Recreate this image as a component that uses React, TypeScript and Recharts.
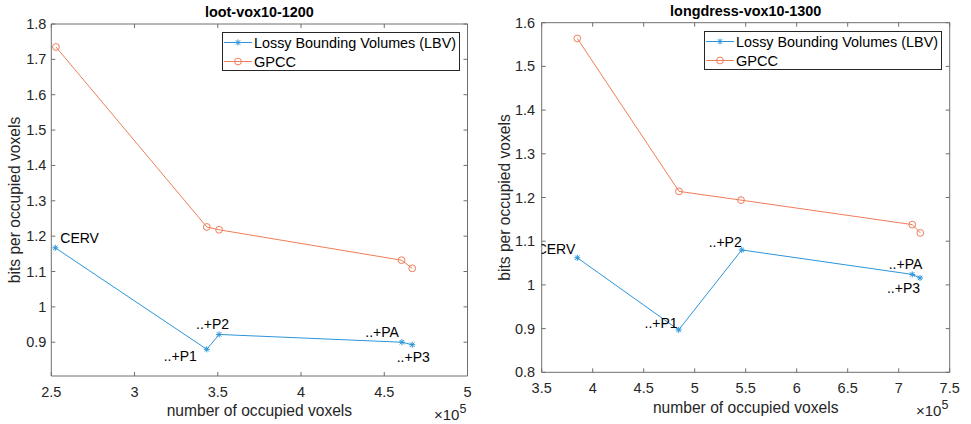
import React from 'react';
import { ScatterChart, Scatter, XAxis, YAxis, Legend, Label } from 'recharts';

const FONT = '"Liberation Sans", Arial, Helvetica, sans-serif';
const BLUE = '#2b95d9';
const ORANGE = '#ef7d5a';
const AXIS = '#6e6e6e';
const TEXT = '#262626';
const TICK_LEN = 4;

// series names + point labels
const seriesNames = ['Lossy Bounding Volumes (LBV)', 'GPCC'];
const pointNames = ['CERV', '..+P1', '..+P2', '..+PA', '..+P3'];

// loot-vox10-1200 (x in 1e5 voxels)
const lootLbvX = [2.524, 3.434, 3.508, 4.606, 4.668];
const lootLbvY = [1.167, 0.88, 0.922, 0.9, 0.893];
const lootGpccX = [2.528, 3.434, 3.508, 4.604, 4.668];
const lootGpccY = [1.735, 1.226, 1.218, 1.132, 1.109];
const lootXTicks = [2.5, 3, 3.5, 4, 4.5, 5];
const lootYTicks = [0.9, 1, 1.1, 1.2, 1.3, 1.4, 1.5, 1.6, 1.7, 1.8];

// longdress-vox10-1300
const longLbvX = [3.849, 4.843, 5.461, 7.133, 7.209];
const longLbvY = [1.062, 0.897, 1.08, 1.024, 1.016];
const longGpccX = [3.849, 4.846, 5.454, 7.133, 7.212];
const longGpccY = [1.564, 1.214, 1.194, 1.138, 1.119];
const longXTicks = [3.5, 4, 4.5, 5, 5.5, 6, 6.5, 7, 7.5];
const longYTicks = [0.8, 0.9, 1, 1.1, 1.2, 1.3, 1.4, 1.5, 1.6];

const toPoints = (xs: number[], ys: number[], names?: string[]) =>
  xs.map((x, i) => ({ x, y: ys[i], name: names ? names[i] : '' }));

// where each text annotation sits relative to its point
const lootLabelPos: Record<string, any> = {
  CERV: { anchor: 'start', dx: 5, dy: -10 },
  '..+P1': { anchor: 'end', dx: -10, dy: 7 },
  '..+P2': { anchor: 'end', dx: 10, dy: -10 },
  '..+PA': { anchor: 'end', dx: -3, dy: -10 },
  '..+P3': { anchor: 'middle', dx: 1, dy: 12 },
};
const longLabelPos: Record<string, any> = {
  CERV: { anchor: 'end', dx: -2, dy: -9 },
  '..+P1': { anchor: 'end', dx: -1, dy: -7 },
  '..+P2': { anchor: 'end', dx: 0, dy: -8 },
  '..+PA': { anchor: 'end', dx: 10, dy: -10 },
  '..+P3': { anchor: 'end', dx: 0, dy: 10 },
};

const star = (cx: number, cy: number, color: string) => (
  <g stroke={color} strokeWidth={1}>
    <line x1={cx - 3} y1={cy} x2={cx + 3} y2={cy} />
    <line x1={cx} y1={cy - 3} x2={cx} y2={cy + 3} />
    <line x1={cx - 2.2} y1={cy - 2.2} x2={cx + 2.2} y2={cy + 2.2} />
    <line x1={cx - 2.2} y1={cy + 2.2} x2={cx + 2.2} y2={cy - 2.2} />
  </g>
);

const circle = (cx: number, cy: number, color: string) => (
  <circle cx={cx} cy={cy} r={3.4} fill="none" stroke={color} strokeWidth={1} />
);

const renderLegend = () => (
  <svg width={238} height={39} style={{ display: 'block' }}>
    <rect x={0.5} y={0.5} width={237} height={38} fill="#fff" stroke="#262626" />
    <line x1={2} y1={10.5} x2={30} y2={10.5} stroke={BLUE} />
    {star(16, 10.5, BLUE)}
    <text x={32} y={15.8} fontSize={14.6} fill="#000" fontFamily={FONT} textLength={202} lengthAdjust="spacingAndGlyphs">
      {seriesNames[0]}
    </text>
    <line x1={2} y1={29.5} x2={30} y2={29.5} stroke={ORANGE} />
    {circle(16, 29.5, ORANGE)}
    <text x={32} y={34.8} fontSize={14.6} fill="#000" fontFamily={FONT}>{seriesNames[1]}</text>
  </svg>
);

const Panel = ({ cfg }: { cfg: any }) => {
  const plotTop = cfg.top;
  const plotBottom = 424 - cfg.bottom;
  const plotLeft = cfg.leftW;
  const plotRight = cfg.width - cfg.rightW;

  const lbvShape = (p: any) => {
    const pos = cfg.labelPos[p.payload.name];
    return (
      <g>
        {star(p.cx, p.cy, BLUE)}
        <text
          x={p.cx + pos.dx}
          y={p.cy + pos.dy}
          textAnchor={pos.anchor}
          dominantBaseline="central"
          fontSize={14}
          fill="#000"
          fontFamily={FONT}
        >
          {p.payload.name}
        </text>
      </g>
    );
  };
  const gpccShape = (p: any) => circle(p.cx, p.cy, ORANGE);

  // inward MATLAB-style ticks
  const bottomTick = (p: any) => (
    <g>
      <line x1={p.x} y1={plotBottom} x2={p.x} y2={plotBottom - TICK_LEN} stroke={AXIS} />
      <text x={p.x} y={plotBottom + cfg.xTickDy} textAnchor="middle" dominantBaseline="central" fontSize={14.5} fill={TEXT} fontFamily={FONT}>
        {p.payload.value}
      </text>
    </g>
  );
  const topTick = (p: any) => (
    <line x1={p.x} y1={plotTop} x2={p.x} y2={plotTop + TICK_LEN} stroke={AXIS} />
  );
  const leftTick = (p: any) => (
    <g>
      <line x1={plotLeft} y1={p.y} x2={plotLeft + TICK_LEN} y2={p.y} stroke={AXIS} />
      <text x={plotLeft - cfg.yTickGap} y={p.y} textAnchor="end" dominantBaseline="central" fontSize={14.5} fill={TEXT} fontFamily={FONT}>
        {p.payload.value}
      </text>
    </g>
  );
  const rightTick = (p: any) => (
    <line x1={plotRight} y1={p.y} x2={plotRight - TICK_LEN} y2={p.y} stroke={AXIS} />
  );

  return (
    <div style={{ position: 'absolute', left: cfg.left, top: 0, width: cfg.width, height: 424 }}>
      <ScatterChart
        width={cfg.width}
        height={424}
        margin={{ top: 0, right: 0, bottom: 0, left: 0 }}
        style={{ fontFamily: FONT }}
      >
        <XAxis
          xAxisId="b"
          type="number"
          dataKey="x"
          domain={cfg.xDomain}
          ticks={cfg.xTicks}
          interval={0}
          allowDataOverflow
          height={cfg.bottom}
          tickLine={false}
          stroke={AXIS}
          tick={bottomTick}
        >
          <Label value="number of occupied voxels" position="insideBottom" offset={cfg.xLabelOffset} fill={TEXT} fontSize={15.6} />
        </XAxis>
        <XAxis
          xAxisId="t"
          orientation="top"
          type="number"
          dataKey="x"
          domain={cfg.xDomain}
          ticks={cfg.xTicks}
          interval={0}
          allowDataOverflow
          height={cfg.top}
          tickLine={false}
          stroke={AXIS}
          tick={topTick}
        >
          <Label value={cfg.title} position="center" fill="#000" fontSize={14.4} fontWeight="bold" />
        </XAxis>
        <YAxis
          yAxisId="l"
          type="number"
          dataKey="y"
          domain={cfg.yDomain}
          ticks={cfg.yTicks}
          interval={0}
          allowDataOverflow
          width={cfg.leftW}
          tickLine={false}
          stroke={AXIS}
          tick={leftTick}
        >
          <Label
            value="bits per occupied voxels"
            angle={-90}
            position="insideLeft"
            offset={cfg.yLabelOffset}
            fill={TEXT}
            fontSize={15.6}
            style={{ textAnchor: 'middle' }}
          />
        </YAxis>
        <YAxis
          yAxisId="r"
          orientation="right"
          type="number"
          dataKey="y"
          domain={cfg.yDomain}
          ticks={cfg.yTicks}
          interval={0}
          allowDataOverflow
          width={cfg.rightW}
          tickLine={false}
          stroke={AXIS}
          tick={rightTick}
        />
        <Scatter
          xAxisId="b"
          yAxisId="l"
          name={seriesNames[0]}
          data={cfg.lbv}
          line={{ stroke: BLUE, strokeWidth: 1 }}
          lineType="joint"
          shape={lbvShape}
          isAnimationActive={false}
        />
        <Scatter
          xAxisId="b"
          yAxisId="l"
          name={seriesNames[1]}
          data={cfg.gpcc}
          line={{ stroke: ORANGE, strokeWidth: 1 }}
          lineType="joint"
          shape={gpccShape}
          isAnimationActive={false}
        />
        <Legend
          layout="vertical"
          align="center"
          verticalAlign="middle"
          content={renderLegend}
          wrapperStyle={{ left: cfg.legendX, top: cfg.legendY, width: 238, height: 39 }}
        />
      </ScatterChart>
      <div
        style={{
          position: 'absolute',
          left: cfg.expX,
          top: cfg.expY,
          fontFamily: FONT,
          fontSize: 15,
          lineHeight: '15px',
          color: TEXT,
          whiteSpace: 'nowrap',
        }}
      >
        ×10<span style={{ position: 'relative', top: -7, fontSize: 12.5 }}>5</span>
      </div>
    </div>
  );
};

const lootCfg = {
  title: 'loot-vox10-1200',
  left: 0,
  width: 485,
  top: 24,
  bottom: 48,
  leftW: 51.3,
  rightW: 17.5,
  xDomain: [2.5, 5],
  yDomain: [0.8045, 1.8],
  xTicks: lootXTicks,
  yTicks: lootYTicks,
  xTickDy: 16,
  yTickGap: 5,
  xLabelOffset: 8,
  yLabelOffset: 14,
  lbv: toPoints(lootLbvX, lootLbvY, pointNames),
  gpcc: toPoints(lootGpccX, lootGpccY),
  labelPos: lootLabelPos,
  legendX: 221.7,
  legendY: 32,
  expX: 434,
  expY: 407,
};

const longCfg = {
  title: 'longdress-vox10-1300',
  left: 485,
  width: 486,
  top: 22.7,
  bottom: 51.7,
  leftW: 56.7,
  rightW: 21.3,
  xDomain: [3.5, 7.5],
  yDomain: [0.8, 1.6],
  xTicks: longXTicks,
  yTicks: longYTicks,
  xTickDy: 15.4,
  yTickGap: 6.5,
  xLabelOffset: 11.5,
  yLabelOffset: 19.5,
  lbv: toPoints(longLbvX, longLbvY, pointNames),
  gpcc: toPoints(longGpccX, longGpccY),
  labelPos: longLabelPos,
  legendX: 219,
  legendY: 30.7,
  expX: 431,
  expY: 403,
};

const App: React.FC = () => (
  <div style={{ position: 'absolute', left: 0, top: 0, width: 971, height: 424, background: '#fff' }}>
    <Panel cfg={lootCfg} />
    <Panel cfg={longCfg} />
  </div>
);

export default App;
